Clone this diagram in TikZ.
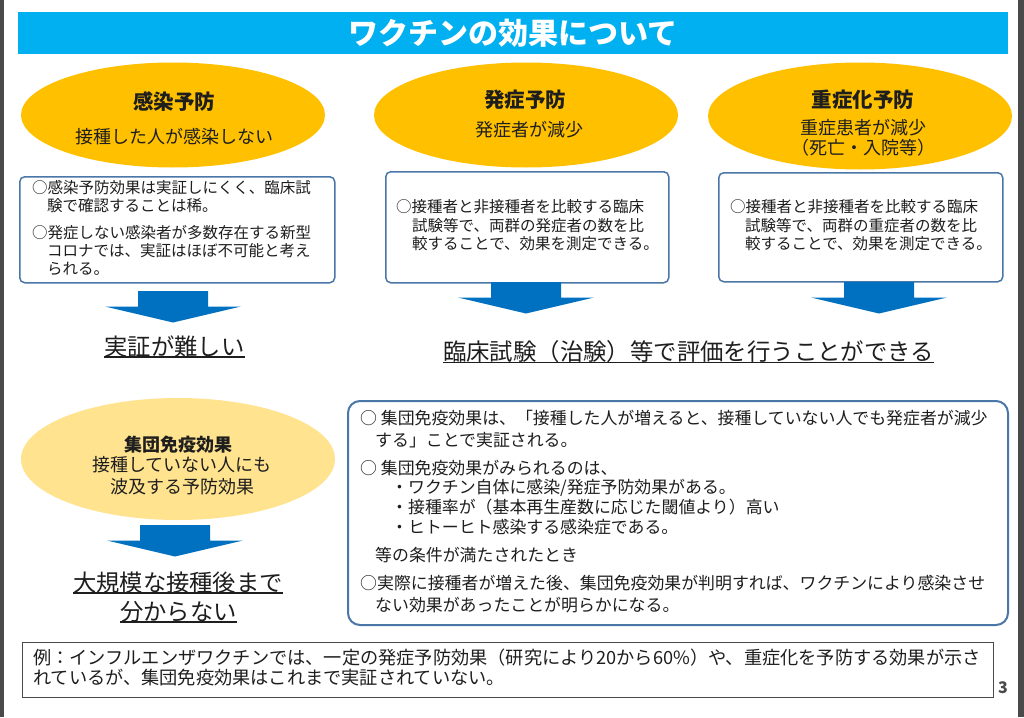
\documentclass[tikz,border=0pt]{standalone}
\usepackage{fontspec}
\setmainfont{Noto Sans CJK JP}
\usetikzlibrary{shapes.geometric}
\definecolor{titlebl}{HTML}{00B0F0}
\definecolor{ellorg}{HTML}{FFC000}
\definecolor{ellpale}{HTML}{FFE38F}
\definecolor{arrbl}{HTML}{0070C0}
\definecolor{boxbl}{HTML}{4A76A8}
\definecolor{txt}{HTML}{1E1E1E}
\definecolor{edgegray}{HTML}{4A4A4A}
\tikzset{
  ell/.style={ellipse, inner sep=0pt, draw=none},
  hd/.style={font=\bfseries\fontsize{20.5}{24}\selectfont, text=txt, anchor=base, inner sep=0pt, yshift=-7.8pt},
  hdsm/.style={font=\bfseries\fontsize{18}{22}\selectfont, text=txt, anchor=base, inner sep=0pt, yshift=-6.8pt},
  subt/.style={font=\fontsize{18}{22}\selectfont, text=txt, anchor=base, inner sep=0pt, yshift=-6.8pt},
  rbox/.style={draw=boxbl, line width=1.5pt, rounded corners=5pt, fill=white, inner sep=0pt},
  bt/.style={font=\fontsize{15.5}{18}\selectfont, text=txt, anchor=base west, inner sep=0pt, yshift=-5.9pt},
  gt/.style={font=\fontsize{16.9}{20}\selectfont, text=txt, anchor=base west, inner sep=0pt, yshift=-6.4pt},
  ft/.style={font=\fontsize{18.2}{22}\selectfont, text=txt, anchor=base west, inner sep=0pt, yshift=-6.9pt},
  bigt/.style={font=\fontsize{23.3}{28}\selectfont, text=txt, anchor=base, inner sep=0pt, yshift=-8.9pt},
  ul/.style={draw=txt, line width=1.2pt},
  pics/barrow/.style={code={\fill[arrbl] (-35,0) -- (35,0) -- (35,15.5) -- (68,15.5) -- (0,31.5) -- (-68,15.5) -- (-35,15.5) -- cycle;}}
}
\begin{document}
\begin{tikzpicture}[x=1pt,y=-1pt]
\useasboundingbox (0,0) rectangle (1024,717);
\fill[white] (0,0) rectangle (1024,717);
\fill[edgegray] (0,0) rectangle (4,717);
\fill[edgegray] (1018,0) rectangle (1024,717);

% title
\node[fill=titlebl, minimum width=990, minimum height=42, inner sep=0pt, anchor=north west] (title) at (18,12) {};
\node[font=\bfseries\fontsize{30}{34}\selectfont, text=white, inner sep=0pt, anchor=base, yshift=-11.4pt] (titletext) at (513,33) {ワクチンの効果について};

% ellipses
\node[ell, fill=ellorg, minimum width=304, minimum height=105] (e1) at (173,115) {};
\node[hd] (e1h) at (174,102) {感染予防};
\node[subt] (e1s) at (174,137) {接種した人が感染しない};

\node[ell, fill=ellorg, minimum width=304, minimum height=105] (e2) at (526,115) {};
\node[hd] (e2h) at (525,100) {発症予防};
\node[subt] (e2s) at (529,130) {発症者が減少};

\node[ell, fill=ellorg, minimum width=304, minimum height=107] (e3) at (860,116) {};
\node[hd] (e3h) at (863,100) {重症化予防};
\node[subt] (e3s1) at (863,128) {重症患者が減少};
\node[subt] (e3s2) at (863,148) {（死亡・入院等）};

% boxes row 1
\node[rbox, minimum width=315, minimum height=106, anchor=north west] (b1) at (19,176) {};
\node[bt] (b1l1) at (32,188) {○感染予防効果は実証しにくく、臨床試};
\node[bt] (b1l2) at (47,206) {験で確認することは稀。};
\node[bt] (b1l3) at (32,233) {○発症しない感染者が多数存在する新型};
\node[bt] (b1l4) at (47,251) {コロナでは、実証はほぼ不可能と考え};
\node[bt] (b1l5) at (47,269) {られる。};

\node[rbox, minimum width=283, minimum height=111, anchor=north west] (b2) at (385,171) {};
\node[bt] (b2l1) at (396,207) {○接種者と非接種者を比較する臨床};
\node[bt] (b2l2) at (412,226) {試験等で、両群の発症者の数を比};
\node[bt] (b2l3) at (412,244) {較することで、効果を測定できる。};

\node[rbox, minimum width=284, minimum height=109, anchor=north west] (b3) at (718,172) {};
\node[bt] (b3l1) at (730,207) {○接種者と非接種者を比較する臨床};
\node[bt] (b3l2) at (745,226) {試験等で、両群の重症者の数を比};
\node[bt] (b3l3) at (745,244) {較することで、効果を測定できる。};

% arrows row 1
\pic at (173,291) {barrow};
\pic at (526,282) {barrow};
\pic at (879,282) {barrow};

\node[bigt] (r1) at (174.5,347) {実証が難しい};
\draw[ul] ([yshift=1pt]r1.south west) -- ([yshift=1pt]r1.south east);
\node[bigt, font=\fontsize{23.4}{28}\selectfont] (r2) at (688.5,352) {臨床試験（治験）等で評価を行うことができる};
\draw[ul] ([yshift=1pt]r2.south west) -- ([yshift=1pt]r2.south east);

% herd immunity
\node[ell, fill=ellpale, minimum width=314, minimum height=122] (e4) at (178,459) {};
\node[hdsm] (e4h) at (178,445) {集団免疫効果};
\node[subt] (e4s1) at (182,465) {接種していない人にも};
\node[subt] (e4s2) at (182,487) {波及する予防効果};

\pic at (175,525) {barrow};

\node[bigt] (r3) at (178,583) {大規模な接種後まで};
\draw[ul] ([yshift=1pt]r3.south west) -- ([yshift=1pt]r3.south east);
\node[bigt] (r4) at (178.5,612) {分からない};
\draw[ul] ([yshift=1pt]r4.south west) -- ([yshift=1pt]r4.south east);

% big box
\node[draw=boxbl, line width=2pt, rounded corners=12pt, minimum width=660, minimum height=224, inner sep=0pt, anchor=north west] (b4) at (347,400) {};
\node[gt] (g1) at (360,418) {○ 集団免疫効果は、「接種した人が増えると、接種していない人でも発症者が減少};
\node[gt] (g2) at (375,440) {する」ことで実証される。};
\node[gt] (g3) at (360,468) {○ 集団免疫効果がみられるのは、};
\node[gt] (g4) at (391,487) {・ワクチン自体に感染/発症予防効果がある。};
\node[gt] (g5) at (391,507) {・接種率が（基本再生産数に応じた閾値より）高い};
\node[gt] (g6) at (391,527) {・ヒトーヒト感染する感染症である。};
\node[gt] (g7) at (375,555) {等の条件が満たされたとき};
\node[gt] (g8) at (360,583) {○実際に接種者が増えた後、集団免疫効果が判明すれば、ワクチンにより感染させ};
\node[gt] (g9) at (375,605) {ない効果があったことが明らかになる。};

% bottom box
\node[draw=edgegray, line width=1pt, minimum width=971, minimum height=55, inner sep=0pt, anchor=north west] (b5) at (22,642) {};
\node[ft] (f1) at (33,658) {例：インフルエンザワクチンでは、一定の発症予防効果（研究により20から60\%）や、重症化を予防する効果が示さ};
\node[ft] (f2) at (33,678) {れているが、集団免疫効果はこれまで実証されていない。};

\node[font=\bfseries\fontsize{16}{18}\selectfont, text=edgegray, inner sep=0pt] (pg) at (1003,688) {3};
\end{tikzpicture}
\end{document}
